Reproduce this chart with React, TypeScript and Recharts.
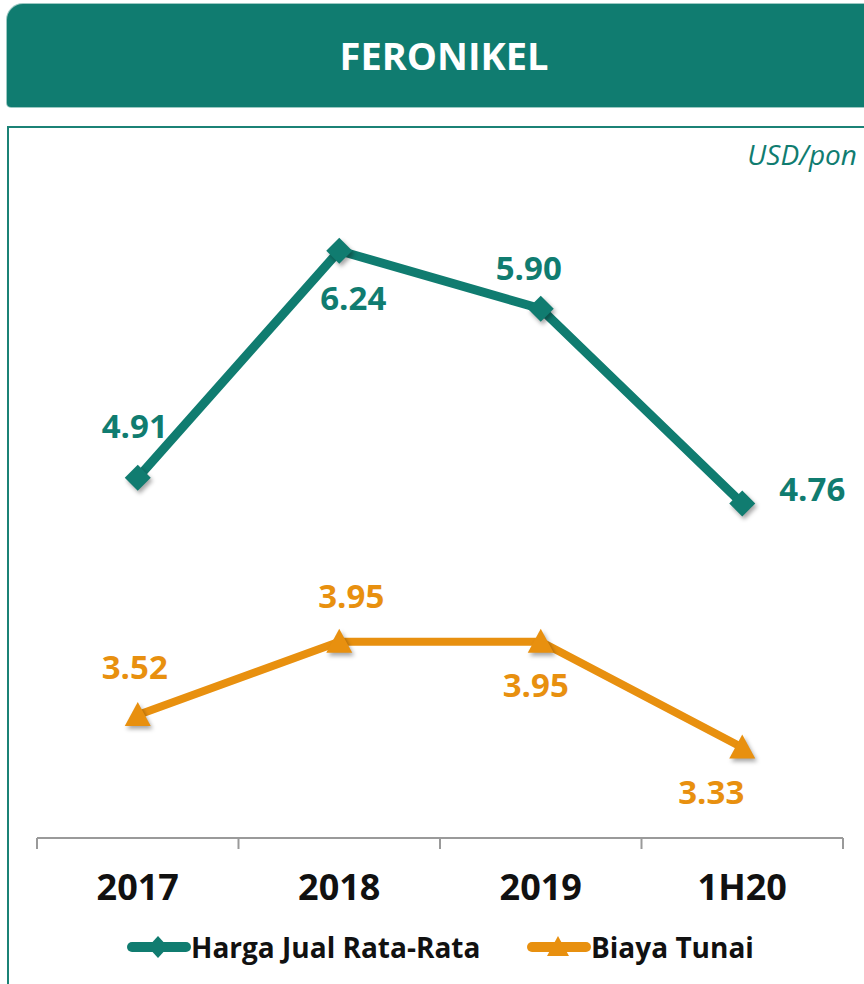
import React from 'react';
import { LineChart, Line, XAxis, YAxis, LabelList } from 'recharts';

const categories = ['2017', '2018', '2019', '1H20'];
const hargaJual = [4.91, 6.24, 5.9, 4.76];
const biayaTunai = [3.52, 3.95, 3.95, 3.33];
const seriesNames = ['Harga Jual Rata-Rata', 'Biaya Tunai'];
const title = 'FERONIKEL';
const unitLabel = 'USD/pon';
const yDomain: [number, number] = [2.8, 7.0];

const data = categories.map((c, i) => ({ cat: c, harga: hargaJual[i], biaya: biayaTunai[i] }));

const TEAL = '#107C70';
const ORANGE = '#E8900F';
const FONT = '"Open Sans", "DejaVu Sans", sans-serif';
const W = 864;
const H = 984;
const X_AXIS_H = 30;
const margin = { top: 121, right: 21, bottom: 146 - X_AXIS_H, left: 37 };
const band = (W - margin.left - margin.right) / categories.length;

// label placement offsets (style only)
const hargaLabelOffsets = [[-3, -52], [14, 47], [-12, -41], [70, -14]];
const biayaLabelOffsets = [[-3, -48], [12, -46], [-5, 43], [-31, 44]];

const shadow = { filter: 'drop-shadow(2px 3px 2px rgba(0,0,0,0.35))' };

const Diamond = (props: any) => {
  const { cx, cy, index } = props;
  if (cx == null || cy == null) return null;
  const r = 13;
  return (
    <path
      key={`d-${index}`}
      d={`M${cx},${cy - r} L${cx + r},${cy} L${cx},${cy + r} L${cx - r},${cy} Z`}
      fill={TEAL}
      style={shadow}
    />
  );
};

const Triangle = (props: any) => {
  const { cx, cy, index } = props;
  if (cx == null || cy == null) return null;
  return (
    <path
      key={`t-${index}`}
      d={`M${cx},${cy - 13} L${cx + 13},${cy + 11} L${cx - 13},${cy + 11} Z`}
      fill={ORANGE}
      style={shadow}
    />
  );
};

const makeLabel = (offsets: number[][], color: string) => (props: any) => {
  const { x, y, value, index } = props;
  const [dx, dy] = offsets[index] || [0, -40];
  return (
    <text
      x={x + dx}
      y={y + dy + 12}
      textAnchor="middle"
      fill={color}
      fontFamily={FONT}
      fontWeight={700}
      fontSize={33}
    >
      {Number(value).toFixed(2)}
    </text>
  );
};

const Tick = (props: any) => {
  const { x, y, payload, index } = props;
  const last = index === categories.length - 1;
  return (
    <g>
      <line x1={x - band / 2} x2={x - band / 2} y1={y} y2={y + 11} stroke="#9a9a9a" strokeWidth={2} />
      {last && <line x1={x + band / 2} x2={x + band / 2} y1={y} y2={y + 11} stroke="#9a9a9a" strokeWidth={2} />}
      <text x={x} y={y + 62} textAnchor="middle" fill="#111" fontFamily={FONT} fontWeight={700} fontSize={36}>
        {payload.value}
      </text>
    </g>
  );
};

const LegendItem = ({ color, shape, label, left }: any) => (
  <div style={{ position: 'absolute', left, top: 930, height: 34, display: 'flex', alignItems: 'center' }}>
    <svg width={64} height={34} style={{ display: 'block' }}>
      <line x1={5} x2={59} y1={17} y2={17} stroke={color} strokeWidth={10} strokeLinecap="round" />
      {shape === 'diamond' ? (
        <path d="M31,6 L41,17 L31,28 L21,17 Z" fill={color} />
      ) : (
        <path d="M31,6 L42,26 L20,26 Z" fill={color} />
      )}
    </svg>
    <span style={{ fontFamily: FONT, fontWeight: 700, fontSize: 28, color: '#111', marginLeft: 0, whiteSpace: 'nowrap' }}>
      {label}
    </span>
  </div>
);

export default function App() {
  return (
    <div style={{ position: 'absolute', left: 0, top: 0, width: W, height: H, overflow: 'hidden', background: '#fff' }}>
      <div
        style={{
          position: 'absolute',
          left: 7,
          top: 4,
          width: 874,
          height: 103,
          background: TEAL,
          borderTopLeftRadius: 16,
          borderBottomLeftRadius: 4,
          boxShadow: '0 0 0 1px #9cc9c3',
        }}
      />
      <div
        style={{
          position: 'absolute',
          left: 0,
          top: 20,
          width: 888,
          textAlign: 'center',
          color: '#fff',
          fontFamily: FONT,
          fontWeight: 700,
          fontSize: 38,
          lineHeight: '70px',
        }}
      >
        {title}
      </div>
      <div
        style={{
          position: 'absolute',
          left: 7,
          top: 126,
          width: 900,
          height: 900,
          borderTop: '2px solid #1B8276',
          borderLeft: '2px solid #1B8276',
        }}
      />
      <div
        style={{
          position: 'absolute',
          right: 7,
          top: 135,
          color: TEAL,
          fontFamily: FONT,
          fontStyle: 'italic',
          fontSize: 28,
          lineHeight: '38px',
        }}
      >
        {unitLabel}
      </div>
      <div style={{ position: 'absolute', left: 0, top: 0 }}>
        <LineChart width={W} height={H} data={data} margin={margin}>
          <XAxis
            dataKey="cat"
            scale="band"
            interval={0}
            height={X_AXIS_H}
            tickLine={false}
            tickSize={0}
            tickMargin={0}
            axisLine={{ stroke: '#9a9a9a', strokeWidth: 2 }}
            tick={<Tick />}
          />
          <YAxis hide domain={yDomain} type="number" />
          <Line
            dataKey="biaya"
            name={seriesNames[1]}
            stroke={ORANGE}
            strokeWidth={8}
            dot={<Triangle />}
            activeDot={false}
            isAnimationActive={false}
          >
            <LabelList dataKey="biaya" content={makeLabel(biayaLabelOffsets, ORANGE)} />
          </Line>
          <Line
            dataKey="harga"
            name={seriesNames[0]}
            stroke={TEAL}
            strokeWidth={9}
            dot={<Diamond />}
            activeDot={false}
            isAnimationActive={false}
          >
            <LabelList dataKey="harga" content={makeLabel(hargaLabelOffsets, TEAL)} />
          </Line>
        </LineChart>
      </div>
      <LegendItem color={TEAL} shape="diamond" label={seriesNames[0]} left={127} />
      <LegendItem color={ORANGE} shape="triangle" label={seriesNames[1]} left={527} />
    </div>
  );
}
